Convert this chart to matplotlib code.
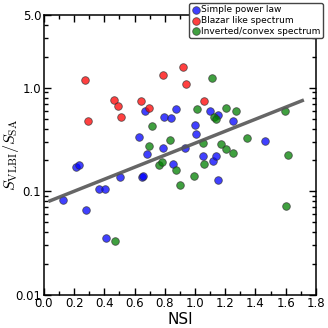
import matplotlib
matplotlib.use('Agg')
import matplotlib.pyplot as plt
import numpy as np
from matplotlib.ticker import MultipleLocator, FixedLocator, FixedFormatter, LogLocator, NullFormatter

plt.rcParams['mathtext.fontset'] = 'cm'

# Simple power law
spl_nsi = [0.126, 0.212, 0.232, 0.278, 0.364, 0.404, 0.410, 0.503, 0.649, 0.629,
           0.668, 0.682, 0.655, 0.788, 0.794, 0.840, 0.854, 0.874, 0.933, 0.999,
           1.006, 1.052, 1.099, 1.118, 1.138, 1.152, 1.152, 1.251, 1.463]
spl_ratio = [0.083, 0.170, 0.178, 0.0664, 0.104, 0.106, 0.0355, 0.136, 0.136, 0.332,
             0.594, 0.227, 0.139, 0.260, 0.519, 0.508, 0.182, 0.621, 0.260, 0.434,
             0.355, 0.217, 0.594, 0.194, 0.217, 0.543, 0.127, 0.475, 0.304]

# Blazar like spectrum
blz_nsi = [0.271, 0.291, 0.463, 0.490, 0.509, 0.642, 0.695, 0.787, 0.920, 0.940, 1.059]
blz_ratio = [1.19, 0.475, 0.76, 0.664, 0.519, 0.743, 0.635, 1.33, 1.59, 1.09, 0.743]

# Inverted/convex spectrum
inv_nsi = [0.470, 0.695, 0.715, 0.761, 0.781, 0.834, 0.874, 0.900, 0.993, 1.013,
           1.052, 1.059, 1.112, 1.125, 1.138, 1.171, 1.205, 1.205, 1.251, 1.271,
           1.343, 1.595, 1.615, 1.602]
inv_ratio = [0.0332, 0.272, 0.425, 0.178, 0.190, 0.311, 0.162, 0.114, 0.139, 0.621,
             0.290, 0.182, 1.24, 0.519, 0.497, 0.284, 0.635, 0.254, 0.232, 0.594,
             0.325, 0.594, 0.222, 0.0726]

# log-linear fit: log10(ratio) = a + b*NSI
fit_a, fit_b = -1.116, 0.580
fit_range = [0.04, 1.71]

fig = plt.figure(figsize=(3.28, 3.28), dpi=100)
ax = fig.add_axes([0.134, 0.1015, 0.829, 0.8515])

kw = dict(s=30, alpha=0.75, edgecolors='#333333', linewidths=0.6, zorder=3)
ax.scatter(spl_nsi, spl_ratio, c='b', label='Simple power law', **kw)
ax.scatter(blz_nsi, blz_ratio, c='r', label='Blazar like spectrum', **kw)
ax.scatter(inv_nsi, inv_ratio, c='g', label='Inverted/convex spectrum', **kw)

fx = np.array(fit_range)
ax.plot(fx, 10 ** (fit_a + fit_b * fx), color='#555555', lw=2.5, alpha=0.9, zorder=4)

ax.set_yscale('log')
ax.set_xlim(0, 1.8)
ax.set_ylim(0.01, 5.0)
ax.xaxis.set_major_locator(MultipleLocator(0.2))
ax.xaxis.set_minor_locator(MultipleLocator(0.1))
ax.yaxis.set_major_locator(FixedLocator([0.01, 0.1, 1.0, 5.0]))
ax.yaxis.set_major_formatter(FixedFormatter(['0.01', '0.1', '1.0', '5.0']))
ax.yaxis.set_minor_locator(LogLocator(base=10, subs=np.arange(2, 10)))
ax.yaxis.set_minor_formatter(NullFormatter())
ax.tick_params(which='both', direction='in', top=True, right=True, labelsize=8.5)
ax.tick_params(which='major', length=5, width=1, pad=2)
ax.tick_params(which='minor', length=3, width=1)
for s in ax.spines.values():
    s.set_linewidth(1.1)

ax.set_xlabel('NSI', fontsize=11, labelpad=1)
ax.set_ylabel(r'$S_{\rm VLBI}/S_{\rm SA}$', fontsize=11.5)
ax.yaxis.set_label_coords(-0.085, 0.5)

ax.legend(loc='upper right', bbox_to_anchor=(323 / 328, 1 - 3 / 328),
          bbox_transform=fig.transFigure, fontsize=6.5, handletextpad=0.1,
          borderpad=0.25, labelspacing=0.2, borderaxespad=0, handlelength=1,
          scatterpoints=1, framealpha=1, edgecolor='#444444', fancybox=True)

fig.savefig('out.png', dpi=100)
